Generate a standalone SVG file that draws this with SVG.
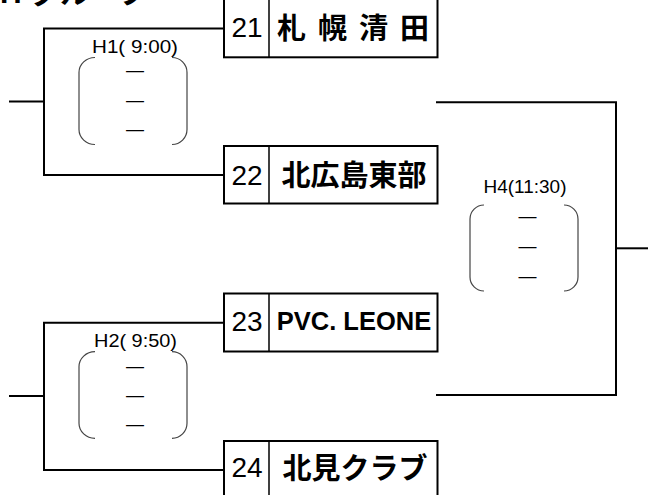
<svg xmlns="http://www.w3.org/2000/svg" width="648" height="495" viewBox="0 0 648 495">
<style>
.ln{fill:none;stroke:#000;stroke-width:2}
.box{fill:#fff;stroke:#000;stroke-width:2}
.div{stroke:#000;stroke-width:1.5}
.par{fill:none;stroke:#444;stroke-width:1.2}
.num{font-family:"Liberation Sans",Arial,sans-serif;font-size:28px;text-anchor:middle;fill:#000}
.jp{font-family:"Noto Sans CJK JP","Noto Sans CJK SC",sans-serif;font-weight:bold;font-size:29px;text-anchor:middle;fill:#000}
.en{font-family:"Liberation Sans",Arial,sans-serif;font-weight:bold;font-size:25.5px;text-anchor:middle;fill:#000}
.lbl{font-family:"Liberation Sans",Arial,sans-serif;font-size:18.5px;text-anchor:middle;fill:#000}
.dash{font-family:"Liberation Sans",Arial,sans-serif;font-size:18px;text-anchor:middle;fill:#000}
.hd{font-family:"Liberation Sans","Noto Sans CJK JP",sans-serif;font-weight:bold;font-size:30px;fill:#000}
</style>
<text class="hd" x="0" y="3">H グループ</text>
<g id="connectors">
<polyline class="ln" points="224,28.5 44,28.5 44,175 224,175"/>
<line class="ln" x1="9" y1="101.5" x2="44" y2="101.5"/>
<polyline class="ln" points="224,322.7 44,322.7 44,470 224,470"/>
<line class="ln" x1="9" y1="396" x2="44" y2="396"/>
<polyline class="ln" points="436,102.3 616,102.3 616,395 436,395"/>
<line class="ln" x1="616" y1="248.3" x2="648" y2="248.3"/>
</g>
<g id="team21">
<rect class="box" x="224" y="-1" width="213.5" height="58.3"/>
<line class="div" x1="269" y1="-1" x2="269" y2="57.3"/>
<text class="num" x="247" y="37">21</text>
<text class="jp" x="353" y="39" textLength="152" lengthAdjust="spacing">札 幌 清 田</text>
</g>
<g id="team22">
<rect class="box" x="224" y="146" width="213.5" height="57.5"/>
<line class="div" x1="269" y1="146" x2="269" y2="203.5"/>
<text class="num" x="247" y="185">22</text>
<text class="jp" x="354" y="185.5">北広島東部</text>
</g>
<g id="team23">
<rect class="box" x="224" y="293.5" width="213.5" height="58"/>
<line class="div" x1="269" y1="293.5" x2="269" y2="351.5"/>
<text class="num" x="247" y="331">23</text>
<text class="en" x="354" y="330">PVC. LEONE</text>
</g>
<g id="team24">
<rect class="box" x="224" y="441" width="213.5" height="58"/>
<line class="div" x1="269" y1="441" x2="269" y2="499"/>
<text class="num" x="247" y="477">24</text>
<text class="jp" x="355" y="479">北見クラブ</text>
</g>
<g id="H1">
<text class="lbl" x="135" y="53" textLength="86" lengthAdjust="spacingAndGlyphs">H1( 9:00)</text>
<path class="par" d="M95,57.5 A16,15 0 0 0 79,72.5 L79,129.5 A16,15 0 0 0 95,144.5"/>
<path class="par" d="M172,57.5 A15,15 0 0 1 187,72.5 L187,129.5 A15,15 0 0 1 172,144.5"/>
<text class="dash" x="135" y="76">―</text>
<text class="dash" x="135" y="106">―</text>
<text class="dash" x="135" y="135">―</text>
</g>
<g id="H2">
<text class="lbl" x="135.5" y="347" textLength="83" lengthAdjust="spacingAndGlyphs">H2( 9:50)</text>
<path class="par" d="M95,351.7 A16,15 0 0 0 79,366.7 L79,423.3 A16,15 0 0 0 95,438.3"/>
<path class="par" d="M172,351.7 A15,15 0 0 1 187,366.7 L187,423.3 A15,15 0 0 1 172,438.3"/>
<text class="dash" x="135" y="371.5">―</text>
<text class="dash" x="135" y="401">―</text>
<text class="dash" x="135" y="430">―</text>
</g>
<g id="H4">
<text class="lbl" x="525" y="193.3" textLength="83" lengthAdjust="spacingAndGlyphs">H4(11:30)</text>
<path class="par" d="M484,205 A14,14 0 0 0 470,219 L470,277 A14,14 0 0 0 484,291"/>
<path class="par" d="M564,205 A14,14 0 0 1 578,219 L578,277 A14,14 0 0 1 564,291"/>
<text class="dash" x="527.5" y="222.3">―</text>
<text class="dash" x="527.5" y="252.3">―</text>
<text class="dash" x="527.5" y="281.7">―</text>
</g>
</svg>
